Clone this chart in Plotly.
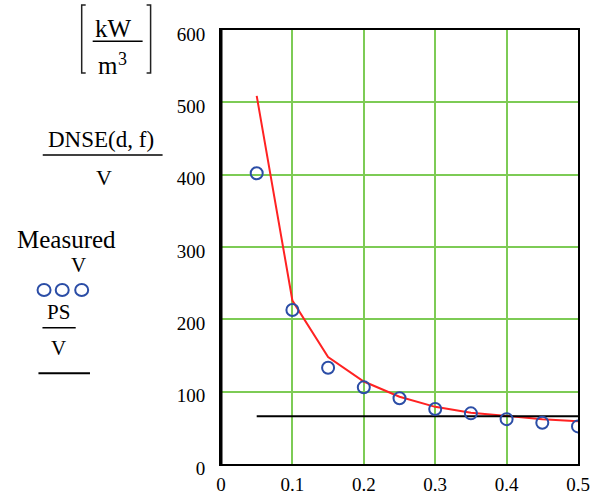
import plotly.graph_objects as go

# Data
x_vals = [0.05, 0.10, 0.15, 0.20, 0.25, 0.30, 0.35, 0.40, 0.45, 0.50]
dnse_per_v = [509, 226, 148, 114, 93, 79, 71, 66, 62, 59]
measured_per_v = [402, 213, 133, 106, 91, 76, 70, 62, 57, 52]
ps_x = [0.05, 0.50]
ps_per_v = [66, 66]
x_ticks = [0, 0.1, 0.2, 0.3, 0.4, 0.5]
x_tick_text = ["0", "0.1", "0.2", "0.3", "0.4", "0.5"]
y_ticks = [0, 100, 200, 300, 400, 500, 600]

W, H = 608, 495
L, R, T, B = 220.5, 578.0, 30.0, 464.0
FONT = "Liberation Serif"


def px(xp):
    return (xp - L) / (R - L)


def py(yp):
    return (B - yp) / (B - T)


fig = go.Figure()
fig.add_trace(go.Scatter(x=x_vals, y=dnse_per_v, mode="lines",
                         line=dict(color="#FF2222", width=2), showlegend=False))
fig.add_trace(go.Scatter(x=ps_x, y=ps_per_v, mode="lines",
                         line=dict(color="#000000", width=2), showlegend=False))
fig.add_trace(go.Scatter(x=x_vals, y=measured_per_v, mode="markers",
                         marker=dict(symbol="circle-open", size=12,
                                     color="#2B4DA6", line=dict(width=2)),
                         cliponaxis=True, showlegend=False))

grid = "#7DCB55"
fig.update_xaxes(range=[0, 0.5], tickvals=x_ticks, ticktext=x_tick_text,
                 showgrid=True, gridcolor=grid, gridwidth=1.5,
                 showline=True, linecolor="black", linewidth=2, mirror=True,
                 zeroline=False, ticks="", ticklabelstandoff=2, automargin=False,
                 tickfont=dict(family=FONT, size=19, color="black"))
fig.update_yaxes(range=[0, 600], tickvals=y_ticks,
                 showgrid=True, gridcolor=grid, gridwidth=1.5,
                 showline=True, linecolor="black", linewidth=2, mirror=True,
                 zeroline=False, ticks="", ticklabelstandoff=10, ticklabelshift=4,
                 automargin=False,
                 tickfont=dict(family=FONT, size=19, color="black"))

shapes = []
# left axis thicker
shapes.append(dict(type="line", xref="paper", yref="paper", x0=0, x1=0, y0=0, y1=1,
                   line=dict(color="black", width=3)))


def hline(x0, x1, y, w=2):
    shapes.append(dict(type="line", xref="paper", yref="paper",
                       x0=px(x0), x1=px(x1), y0=py(y), y1=py(y),
                       line=dict(color="black", width=w)))


def path(pts, w=1.5):
    d = "M " + " L ".join(f"{px(a)},{py(b)}" for a, b in pts)
    shapes.append(dict(type="path", xref="paper", yref="paper", path=d,
                       line=dict(color="#222222", width=w)))


# unit brackets
path([(85, 5), (81, 5), (81, 73), (85, 73)])
path([(146, 5), (150, 5), (150, 73), (146, 73)])
hline(92, 142, 41.3, 1.5)
hline(42, 162, 155, 1.5)
hline(41.7, 75, 327.7, 1.5)
hline(37.7, 89.3, 373.3, 2)

for cx in [43.3, 61.5, 81]:
    shapes.append(dict(type="circle", xref="paper", yref="paper",
                       xsizemode="pixel", ysizemode="pixel",
                       xanchor=px(cx), yanchor=py(290),
                       x0=-6.5, x1=6.5, y0=-6, y1=6,
                       line=dict(color="#2B4DA6", width=2)))

annotations = []


def txt(s, cx, cy, size):
    annotations.append(dict(text=s, xref="paper", yref="paper",
                            x=px(cx), y=py(cy), xanchor="center", yanchor="middle",
                            showarrow=False,
                            font=dict(family=FONT, size=size, color="black")))


txt("kW", 113, 28.5, 25)
txt("m", 107, 65, 25)
txt("3", 122, 58.5, 18)
txt("DNSE(d, f)", 100, 139.5, 23)
txt("V", 103, 177, 22)
txt("Measured", 66, 239, 25)
txt("V", 77.5, 264.5, 21)
txt("PS", 58, 312, 21)
txt("V", 57.5, 348, 21)

fig.update_layout(width=W, height=H, shapes=shapes, annotations=annotations,
                  margin=dict(l=L, r=W - R, t=T, b=H - B),
                  plot_bgcolor="white", paper_bgcolor="white",
                  showlegend=False)

fig.write_html("out.html", config={"displayModeBar": False},
               post_script="document.body.style.margin='0';document.body.style.padding='0';")
